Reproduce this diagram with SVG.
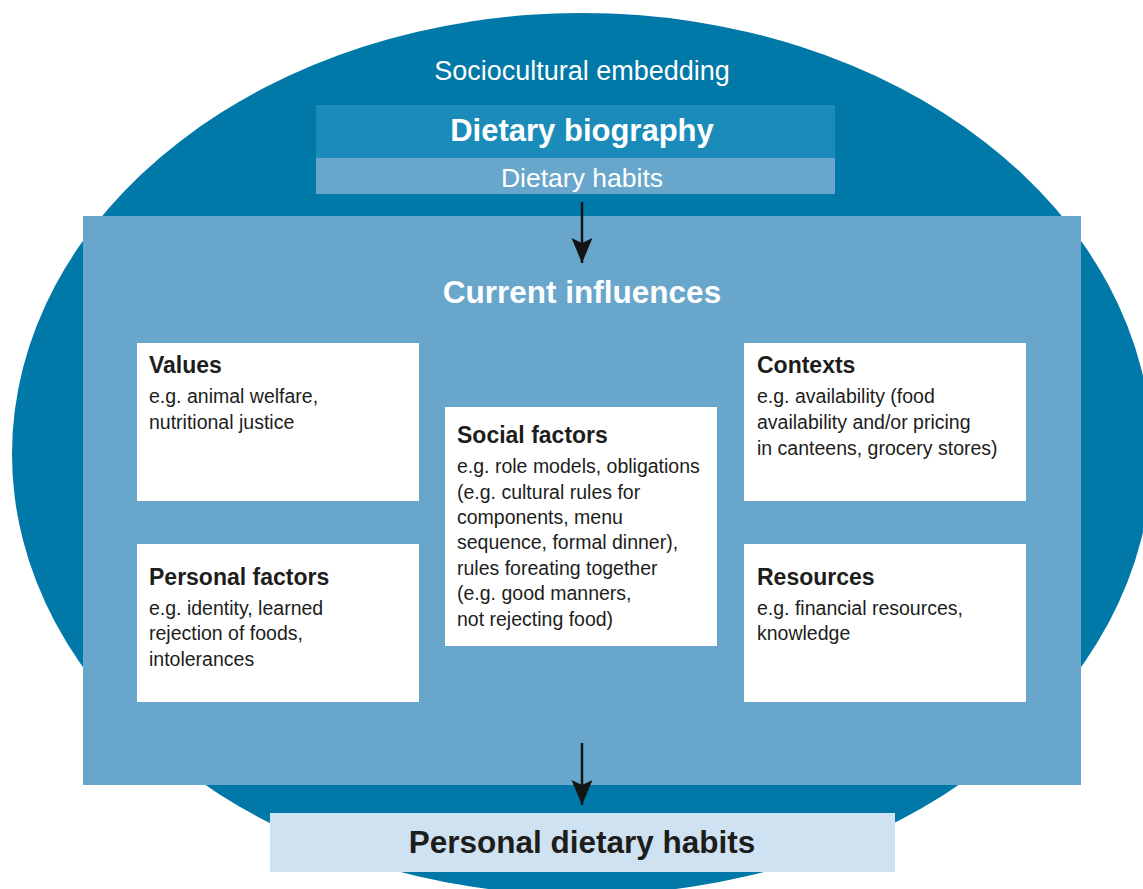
<svg xmlns="http://www.w3.org/2000/svg" width="1143" height="889" viewBox="0 0 1143 889">
<defs>
<marker id="arr" markerUnits="userSpaceOnUse" markerWidth="28" markerHeight="24" viewBox="-26 -12 28 24" refX="0" refY="0" orient="auto">
<path d="M0,0 L-25,-10.5 L-20,0 L-25,10.5 Z" fill="#141414"/>
</marker>
<style>
text{font-family:"Liberation Sans",Arial,sans-serif}
.w{fill:#ffffff}
.d{fill:#1d1d1b}
.b{font-weight:bold}
.c{text-anchor:middle}
.box{fill:#ffffff}
.t{font-size:23px;font-weight:bold;fill:#1d1d1b}
.s{font-size:19.5px;fill:#1d1d1b}
.conn{stroke:#141414;stroke-width:2.5;fill:none}
</style>
</defs>
<rect width="1143" height="889" fill="#ffffff"/>
<g id="sociocultural">
<ellipse cx="582" cy="454" rx="570" ry="441" fill="#0078a8"/>
<text x="582" y="80" class="w c" font-size="27">Sociocultural embedding</text>
</g>
<g id="biography">
<rect x="316" y="105" width="519" height="53" fill="#1b8cba"/>
<rect x="316" y="158" width="519" height="36" fill="#68a6cb"/>
<text x="582" y="141" class="w c b" font-size="31">Dietary biography</text>
<text x="582" y="187" class="w c" font-size="26.5">Dietary habits</text>
</g>
<g id="current">
<rect x="83" y="216" width="998" height="569" fill="#68a6cb"/>
<text x="582" y="303" class="w c b" font-size="31.5">Current influences</text>
</g>
<g id="values">
<rect class="box" x="137" y="343" width="282" height="158"/>
<text x="149" y="373" class="t">Values</text>
<text class="s"><tspan x="149" y="403">e.g. animal welfare,</tspan><tspan x="149" y="429">nutritional justice</tspan></text>
</g>
<g id="personal">
<rect class="box" x="137" y="544" width="282" height="158"/>
<text x="149" y="585" class="t">Personal factors</text>
<text class="s"><tspan x="149" y="615">e.g. identity, learned</tspan><tspan x="149" y="640">rejection of foods,</tspan><tspan x="149" y="666">intolerances</tspan></text>
</g>
<g id="social">
<rect class="box" x="445" y="407" width="272" height="239"/>
<text x="457" y="443" class="t">Social factors</text>
<text class="s"><tspan x="457" y="473">e.g. role models, obligations</tspan><tspan x="457" y="499">(e.g. cultural rules for</tspan><tspan x="457" y="524">components, menu</tspan><tspan x="457" y="549">sequence, formal dinner),</tspan><tspan x="457" y="575">rules foreating together</tspan><tspan x="457" y="600">(e.g. good manners,</tspan><tspan x="457" y="626">not rejecting food)</tspan></text>
</g>
<g id="contexts">
<rect class="box" x="744" y="343" width="282" height="158"/>
<text x="757" y="373" class="t">Contexts</text>
<text class="s"><tspan x="757" y="403">e.g. availability (food</tspan><tspan x="757" y="429">availability and/or pricing</tspan><tspan x="757" y="455">in canteens, grocery stores)</tspan></text>
</g>
<g id="resources">
<rect class="box" x="744" y="544" width="282" height="158"/>
<text x="757" y="585" class="t">Resources</text>
<text class="s"><tspan x="757" y="615">e.g. financial resources,</tspan><tspan x="757" y="640">knowledge</tspan></text>
</g>
<g id="outcome">
<rect x="270" y="813" width="625" height="59" fill="#cfe2f1"/>
<text x="582" y="853" class="d c b" font-size="31.5">Personal dietary habits</text>
</g>
<g id="connectors">
<line class="conn" x1="582" y1="202" x2="582" y2="263" marker-end="url(#arr)"/>
<line class="conn" x1="582" y1="743" x2="582" y2="805" marker-end="url(#arr)"/>
</g>
</svg>
